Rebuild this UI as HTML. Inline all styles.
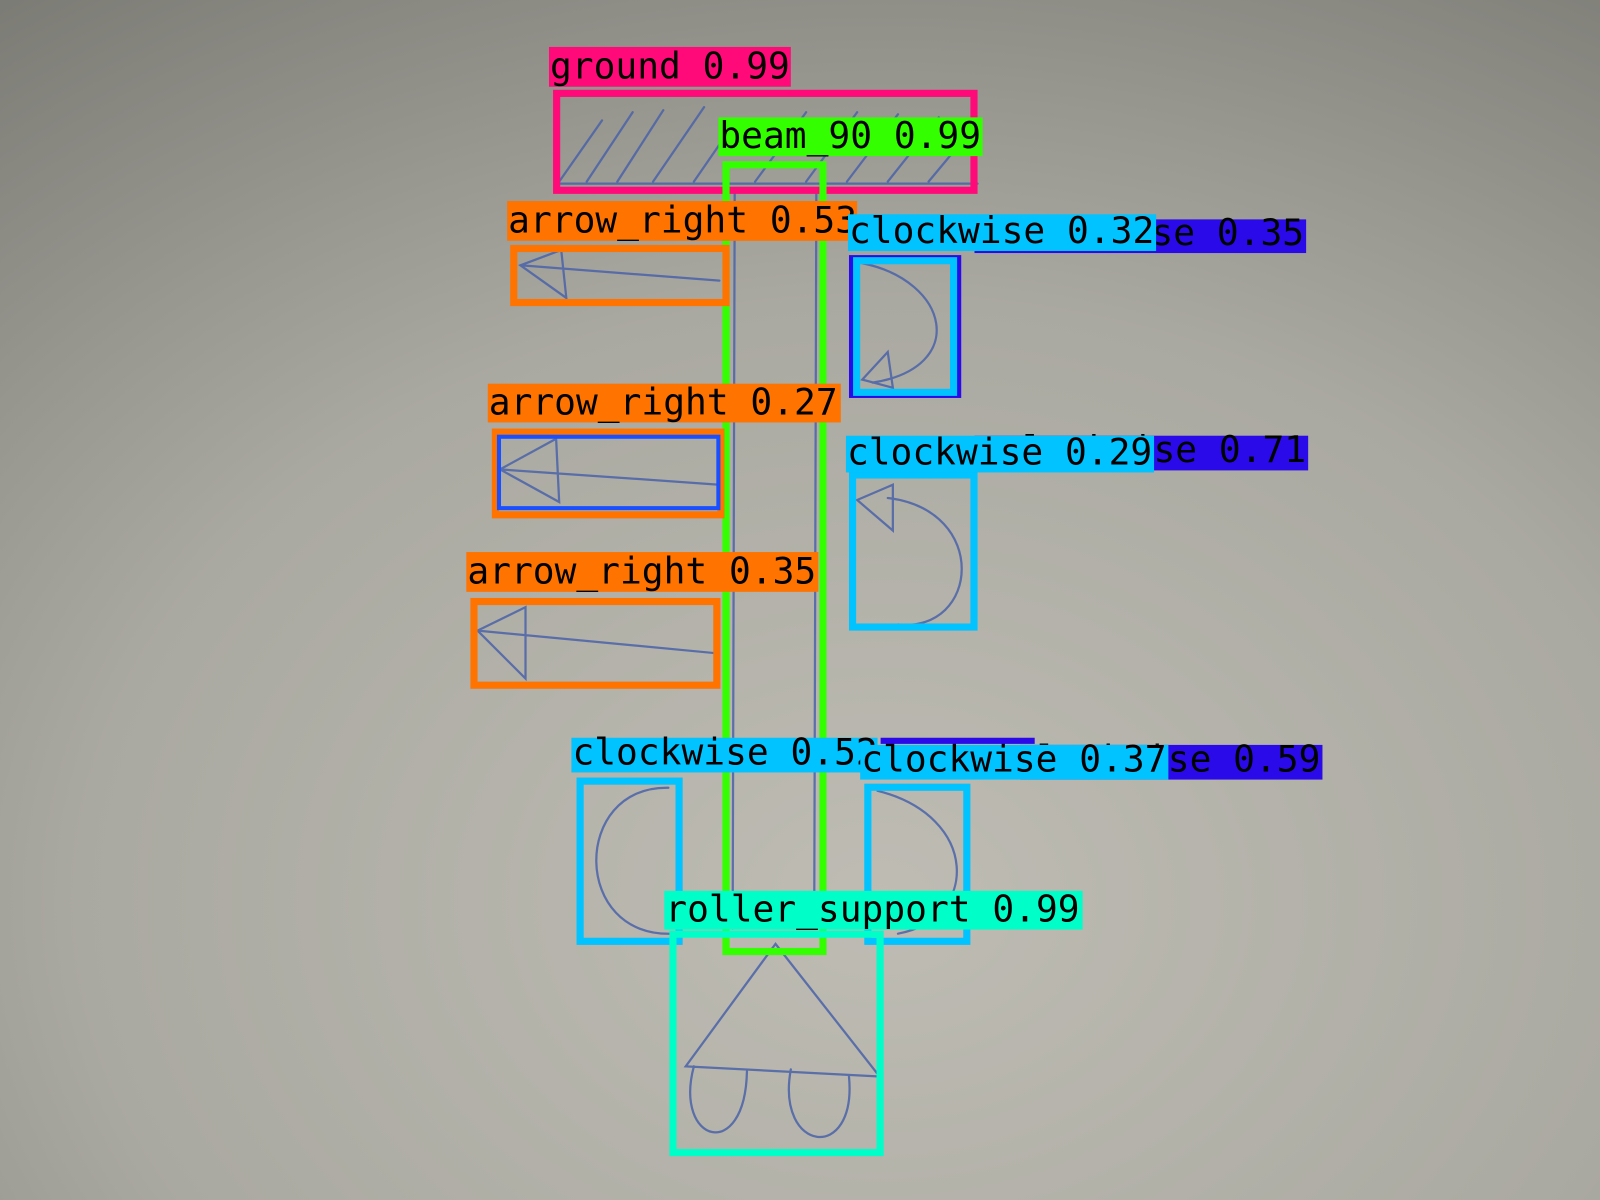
<!DOCTYPE html>
<html><head><meta charset="utf-8"><style>
html,body{margin:0;padding:0;width:1600px;height:1200px;overflow:hidden;background:#a6a49c}
svg{display:block}
</style></head><body>
<svg id="c" width="1600" height="1200" viewBox="0 0 1568 1176" xmlns="http://www.w3.org/2000/svg">
<defs>
<radialGradient id="bg" cx="0.55" cy="0.75" r="1.0">
<stop offset="0" stop-color="#bebcb3"/><stop offset="0.5" stop-color="#aaa9a1"/><stop offset="1" stop-color="#74746e"/>
</radialGradient>
</defs>
<rect x="0" y="0" width="1568" height="1176" fill="url(#bg)"/>
<g fill="none" stroke="#4a62a8" stroke-width="2.2" stroke-linecap="round" opacity="0.85">
<path d="M545 180 L958 180"/>
<path d="M548 178 L590 118 M575 178 L620 110 M605 178 L650 108 M640 178 L690 105 M680 178 L720 120 M740 178 L790 110 M790 178 L840 110 M830 178 L880 112 M870 178 L920 115 M910 178 L950 130"/>
<path d="M720 190 L718 910 M800 190 L798 880"/>
<path d="M510 260 L705 275 M510 260 L550 245 L555 292 Z"/>
<path d="M490 460 L705 475 M490 460 L545 430 L548 492 Z"/>
<path d="M468 618 L700 640 M468 618 L515 595 L515 665 Z"/>
<path d="M845 258 C930 275 950 360 855 375 M845 372 L870 345 L875 380 Z"/>
<path d="M870 488 C970 500 960 620 880 612 M840 490 L875 475 L875 520 Z"/>
<path d="M655 772 C560 770 560 920 660 915"/>
<path d="M860 775 C960 800 960 900 880 915"/>
<path d="M760 925 L672 1045 L862 1055 Z"/>
<path d="M680 1045 C660 1120 730 1140 732 1050 M775 1048 C760 1130 840 1140 832 1055"/>
</g>
<g id="dets"></g>
</svg>
<script>
const classes=["ground","beam_90","arrow_right","counterclockwise","clockwise","arrow_right","counterclockwise","clockwise","arrow_right","clockwise","counterclockwise","clockwise","roller_support"];
const scores=[0.99,0.99,0.53,0.35,0.32,0.27,0.71,0.29,0.35,0.52,0.59,0.37,0.99];
const boxes=[[542,88,958,190],[708,158,810,936],[500,240,715,300],[832,250,942,390],[836,252,938,388],[482,420,710,508],[0,0,0,0],[832,462,958,618],[461,586,706,675],[565,762,669,926],[0,0,0,0],[847,768,951,926],[656,912,866,1133]];
const labelBoxes=[[538,46,775,85],[704,115,963,153],[497,197,840,236],[955,215,1280,248],[831,210,1133,246],[478,376,824,414],[955,427,1282,461],[829,427,1131,463],[457,541,802,580],[560,723,860,757],[1000,730,1296,764],[843,730,1145,764],[651,873,1061,911]];
const colors={ground:"#ff0a78",beam_90:"#33ff00",arrow_right:"#ff7300",counterclockwise:"#2a0ae8",clockwise:"#00c3ff",roller_support:"#00ffc8"};
const NS="http://www.w3.org/2000/svg";
const g=document.getElementById("dets");
for(let i=0;i<classes.length;i++){
  const col=colors[classes[i]];
  const b=boxes[i];
  if(b[2]>b[0]){
    const r=document.createElementNS(NS,"rect");
    
    
    r.setAttribute("x",b[0]+3.5);r.setAttribute("y",b[1]+3.5);
    r.setAttribute("width",b[2]-b[0]-7);r.setAttribute("height",b[3]-b[1]-7);
    r.setAttribute("fill","none");r.setAttribute("stroke",col);r.setAttribute("stroke-width","7");
    g.appendChild(r);
  }
  const l=labelBoxes[i];
  const lr=document.createElementNS(NS,"rect");
  
  
  lr.setAttribute("x",l[0]);lr.setAttribute("y",l[1]);lr.setAttribute("width",l[2]-l[0]);lr.setAttribute("height",l[3]-l[1]);
  lr.setAttribute("fill",col);
  g.appendChild(lr);
  const t=document.createElementNS(NS,"text");
  
  
  const isHidden=(classes[i]==="counterclockwise");
  if(isHidden){t.setAttribute("x",l[2]-2);t.setAttribute("text-anchor","end");}
  else{t.setAttribute("x",l[0]+1);t.setAttribute("text-anchor","start");}
  t.setAttribute("y",l[3]-8);
  t.setAttribute("font-family","'DejaVu Sans Mono','Liberation Mono',monospace");
  t.setAttribute("font-size","35.5");
  t.setAttribute("fill","#000");
  t.textContent=classes[i]+" "+scores[i].toFixed(2);
  g.appendChild(t);
}
const inner=document.createElementNS(NS,"rect");


inner.setAttribute("x",489);inner.setAttribute("y",428);inner.setAttribute("width",215);inner.setAttribute("height",70);
inner.setAttribute("fill","none");inner.setAttribute("stroke","#1a4fff");inner.setAttribute("stroke-width","4");
g.appendChild(inner);
const bar=document.createElementNS(NS,"rect");


bar.setAttribute("x",863);bar.setAttribute("y",723);bar.setAttribute("width",151);bar.setAttribute("height",6);
bar.setAttribute("fill","#2a0ae8");
g.appendChild(bar);
</script>
</body></html>
